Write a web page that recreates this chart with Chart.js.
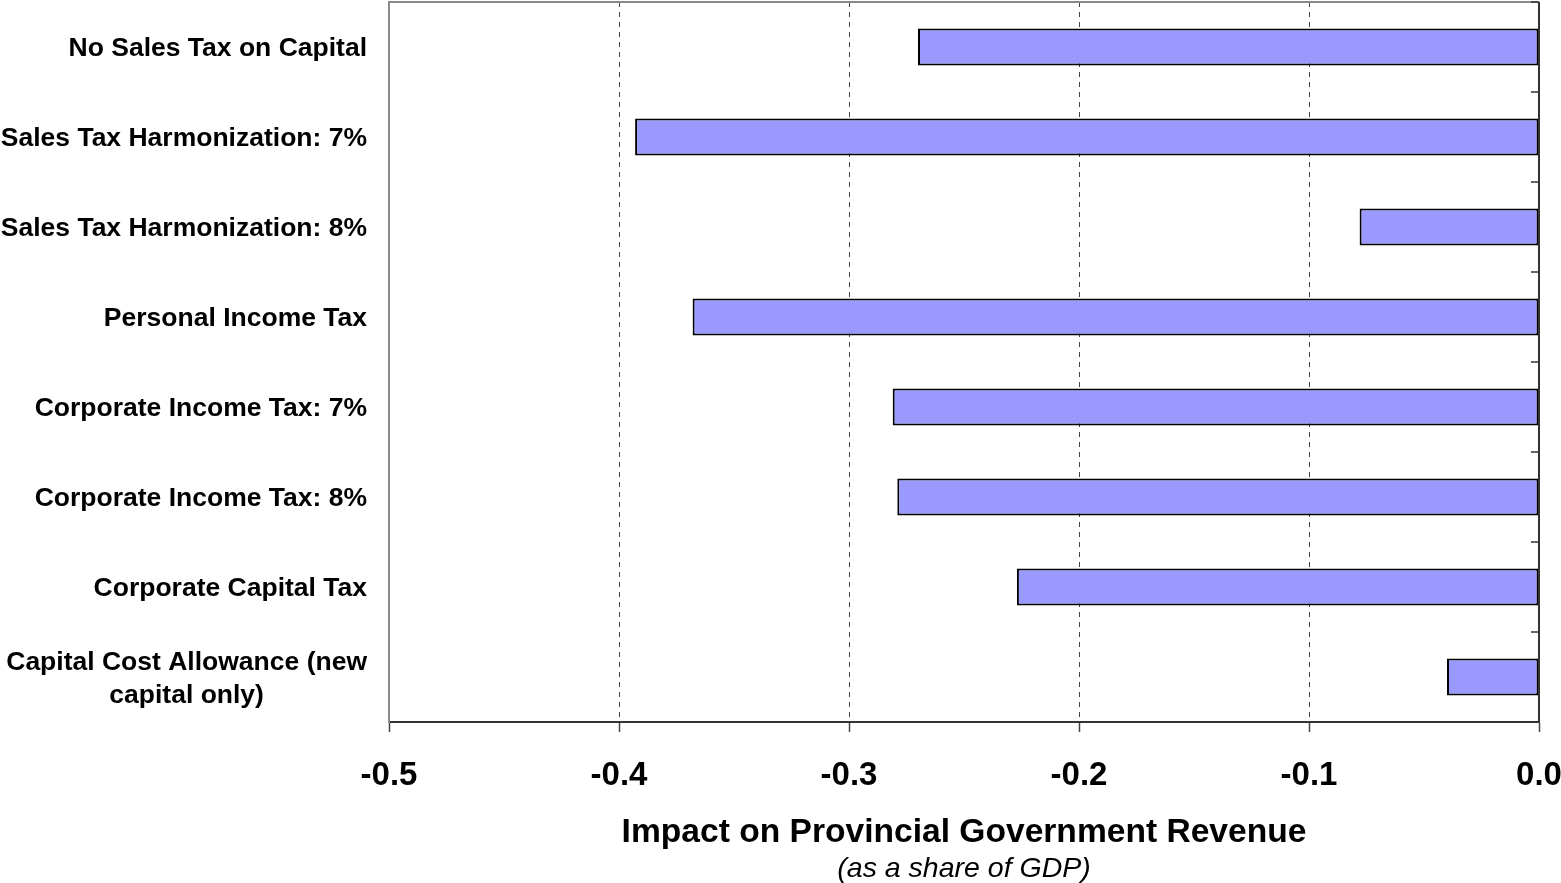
<!DOCTYPE html>
<html>
<head>
<meta charset="utf-8">
<script src="https://cdn.jsdelivr.net/npm/chart.js@4.4.1/dist/chart.umd.min.js"></script>
<style>
    body { margin: 0; background: #fff; }
    #wrap { width: 1561px; height: 883px; }
</style>
</head>
<body>
<div id="wrap"><canvas id="myChart"></canvas></div>
<script>
// categories, top to bottom
const categories = [
    "No Sales Tax on Capital",
    "Sales Tax Harmonization: 7%",
    "Sales Tax Harmonization: 8%",
    "Personal Income Tax",
    "Corporate Income Tax: 7%",
    "Corporate Income Tax: 8%",
    "Corporate Capital Tax",
    ["Capital Cost Allowance (new", "capital only)"]
];
const impact = [-0.270, -0.393, -0.078, -0.368, -0.281, -0.279, -0.227, -0.040];
const xMin = -0.5;
const xMax = 0.0;
const xStep = 0.1;
const xTitle = "Impact on Provincial Government Revenue";
const xSubtitle = "(as a share of GDP)";

const fontFam = "'Liberation Sans', Arial, sans-serif";

// category labels: right aligned, multi-line ones centred on themselves
const labelPlugin = {
    id: 'labelPlugin',
    afterDraw(chart) {
        const ctx = chart.ctx;
        const y = chart.scales.y;
        const area = chart.chartArea;
        const xr = area.left - 22;
        ctx.save();
        ctx.font = 'bold 26.5px ' + fontFam;
        ctx.fillStyle = '#000';
        ctx.textBaseline = 'middle';
        categories.forEach(function(lab, i) {
            const yc = y.getPixelForValue(i) + 2;
            if (Array.isArray(lab)) {
                let widest = 0;
                lab.forEach(l => { widest = Math.max(widest, ctx.measureText(l).width); });
                ctx.textAlign = 'center';
                const lh = 33;
                const y0 = yc - (lab.length - 1) * lh / 2;
                lab.forEach((l, k) => ctx.fillText(l, xr - widest / 2, y0 + k * lh));
            } else {
                ctx.textAlign = 'right';
                ctx.fillText(lab, xr, yc);
            }
        });

        // subtitle under the axis title, centred on the plot
        ctx.font = 'italic 28.5px ' + fontFam;
        ctx.textAlign = 'center';
        ctx.fillText(xSubtitle, (area.left + area.right) / 2, 869);

        // frame top + right category axis with its inner ticks
        ctx.lineWidth = 2;
        ctx.strokeStyle = '#8a8a8a';
        ctx.beginPath();
        ctx.moveTo(area.left, area.top);
        ctx.lineTo(area.right, area.top);
        ctx.stroke();

        ctx.strokeStyle = '#333';
        ctx.beginPath();
        ctx.moveTo(area.right, area.top);
        ctx.lineTo(area.right, area.bottom);
        ctx.stroke();

        const half = (y.getPixelForValue(1) - y.getPixelForValue(0)) / 2;
        ctx.lineWidth = 1.5;
        for (let i = 0; i <= categories.length; i++) {
            const yt = y.getPixelForValue(i) - half;
            ctx.beginPath();
            ctx.moveTo(area.right - 8, yt);
            ctx.lineTo(area.right, yt);
            ctx.stroke();
        }
        ctx.restore();
    }
};

const ctx = document.getElementById('myChart').getContext('2d');
const myChart = new Chart(ctx, {
    type: 'bar',
    data: {
        labels: categories.map(c => Array.isArray(c) ? c.join(' ') : c),
        datasets: [{
            data: impact,
            backgroundColor: '#9999ff',
            borderColor: '#000',
            borderWidth: 2,
            borderSkipped: false,
            categoryPercentage: 1.0,
            barPercentage: 0.41
        }]
    },
    options: {
        indexAxis: 'y',
        responsive: true,
        maintainAspectRatio: false,
        animation: false,
        layout: { padding: { top: 2, right: 0, bottom: 0, left: 0 } },
        plugins: {
            legend: { display: false },
            tooltip: { enabled: false }
        },
        scales: {
            x: {
                type: 'linear',
                min: xMin,
                max: xMax,
                ticks: {
                    stepSize: xStep,
                    color: '#000',
                    padding: 24,
                    font: { family: fontFam, size: 33, weight: 'bold' },
                    callback: function(v) { return (Math.round(v * 10) / 10).toFixed(1); }
                },
                grid: {
                    color: function(c) {
                        const v = c.tick ? Math.round(c.tick.value * 10) / 10 : null;
                        return (v === xMin || v === xMax) ? 'rgba(0,0,0,0)' : '#444';
                    },
                    lineWidth: 1,
                    tickLength: 10,
                    tickColor: '#444',
                    tickWidth: 1.5
                },
                border: { color: '#333', width: 2, dash: [5, 5] },
                title: {
                    display: true,
                    text: xTitle,
                    color: '#000',
                    font: { family: fontFam, size: 33.6, weight: 'bold' },
                    padding: { top: 0, bottom: 30 }
                },
                afterFit: function(scale) {
                    scale.height = 161;
                    scale.paddingRight = 22;
                }
            },
            y: {
                type: 'category',
                ticks: { display: false },
                grid: { display: false },
                border: { color: '#8a8a8a', width: 2 },
                afterFit: function(scale) { scale.width = 389; }
            }
        }
    },
    plugins: [labelPlugin]
});
</script>
</body>
</html>
